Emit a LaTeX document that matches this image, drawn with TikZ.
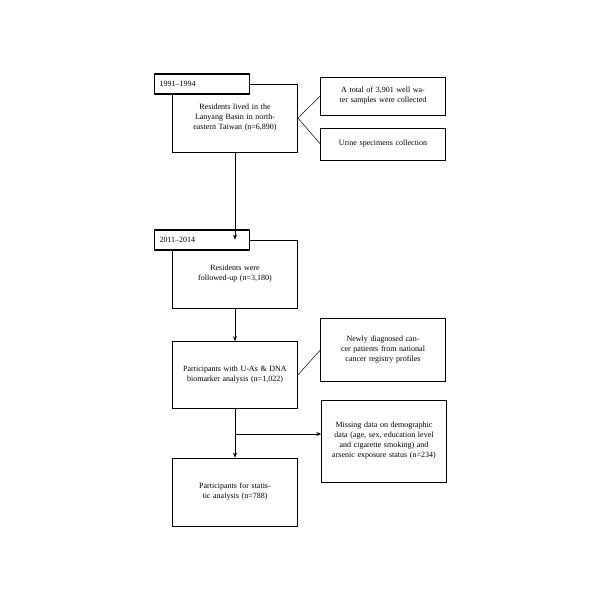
\documentclass[tikz,border=0pt]{standalone}
\usepackage{fontspec}
\setmainfont{Liberation Serif}
\usetikzlibrary{arrows.meta}
\tikzset{
  mainbox/.style={draw, line width=0.7pt, minimum width=125pt, text width=118pt, align=center, font=\fontsize{8}{10}\selectfont},
  sidebox/.style={draw, line width=0.7pt, minimum width=122pt, text width=118pt, align=center, font=\fontsize{8}{10}\selectfont},
  yearbox/.style={draw, fill=white, line width=1.6pt, minimum width=95pt, minimum height=20pt, text width=85pt, align=left, font=\fontsize{8}{10}\selectfont},
  flow/.style={line width=1pt, -{Stealth[length=5pt,width=4pt]}}
}
\begin{document}
\begin{tikzpicture}[x=1pt,y=-1pt]
\useasboundingbox (0,0) rectangle (600,600);
\node[mainbox, minimum height=68pt] (res) at (235,118) {Residents lived in the Lanyang Basin in northeastern Taiwan (n=6,890)};
\node[yearbox] (y1) at (202,84) {1991--1994};
\node[sidebox, minimum height=38pt] (well) at (383,96) {A total of 3,901 well water samples were collected};
\node[sidebox, minimum height=32pt] (urine) at (383,144) {Urine specimens collection};
\node[mainbox, minimum height=68pt] (fol) at (235,274) {Residents were followed-up (n=3,180)};
\node[yearbox] (y2) at (202,240) {2011--2014};
\node[mainbox, minimum height=67pt] (dna) at (235,375) {Participants with U-As \& DNA biomarker analysis (n=1,022)};
\node[sidebox, minimum height=63pt] (cancer) at (383,350) {Newly diagnosed cancer patients from national cancer registry profiles};
\node[sidebox, minimum height=82pt, minimum width=121pt] (miss) at (384,441) {Missing data on demographic data (age, sex, education level and cigarette smoking) and arsenic exposure status (n=234)};
\node[mainbox, minimum height=68pt] (stat) at (235,492) {Participants for statistic analysis (n=788)};
\coordinate (split) at (235,434);
% side links
\draw[line width=0.5pt] (res.east) -- (well.west);
\draw[line width=0.5pt] (res.east) -- (urine.west);
\draw[line width=0.5pt] (dna.east) -- (cancer.west);
% main flow
\draw[flow] (res.south) -- (fol.north);
\draw[flow] (fol.south) -- (dna.north);
\draw[flow] (dna.south) -- (stat.north);
\draw[flow] (split) -- (miss.west |- split);
\end{tikzpicture}
\end{document}
